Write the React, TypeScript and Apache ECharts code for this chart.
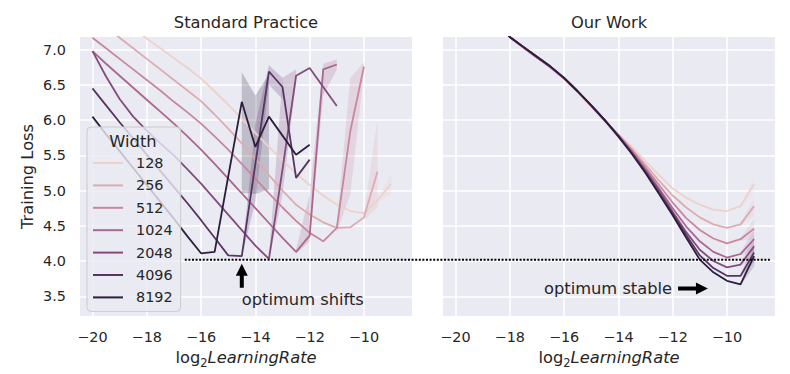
import { useEffect, useRef } from "react";
import * as echarts from "echarts";

const widthLabels = ["128", "256", "512", "1024", "2048", "4096", "8192"];
const palette = ["#edd1cb", "#deabb0", "#c8879e", "#aa678f", "#834c7d", "#583463", "#2d1e3e"];

// ---- Standard Practice (left panel) ----
const stdLR = [-20, -19.5, -19, -18.5, -18, -17.5, -17, -16.5, -16, -15.5, -15, -14.5, -14, -13.5, -13, -12.5, -12, -11.5, -11, -10.5, -10, -9.5, -9];
const std128 = [7.72, 7.58, 7.44, 7.3, 7.16, 7.02, 6.88, 6.74, 6.59, 6.41, 6.22, 6.02, 5.82, 5.62, 5.43, 5.24, 5.08, 4.93, 4.8, 4.71, 4.68, 4.86, 5.1];
const std256 = [7.47, 7.32, 7.17, 7.02, 6.87, 6.72, 6.57, 6.42, 6.27, 6.08, 5.88, 5.67, 5.45, 5.22, 5.0, 4.8, 4.66, 4.55, 4.47, 4.48, 4.62, 5.27, null];
const std512 = [7.17, 7.02, 6.87, 6.72, 6.57, 6.42, 6.26, 6.11, 5.95, 5.77, 5.58, 5.38, 5.17, 4.96, 4.76, 4.57, 4.4, 4.28, 4.47, 5.85, 6.76, null, null];
const std1024 = [6.98, 6.8, 6.63, 6.46, 6.29, 6.12, 5.95, 5.77, 5.58, 5.38, 5.17, 4.96, 4.75, 4.54, 4.33, 4.13, 4.36, 6.72, 6.79, null, null, null, null];
const std2048 = [6.98, 6.62, 6.3, 6.05, 5.85, 5.67, 5.5, 5.3, 5.1, 4.88, 4.66, 4.44, 4.22, 4.03, 5.3, 6.63, 6.74, 6.47, 6.2, null, null, null, null];
const std4096 = [6.45, 6.21, 5.97, 5.74, 5.51, 5.28, 5.05, 4.82, 4.58, 4.33, 4.08, 4.07, 5.38, 6.69, 6.47, 5.18, 5.44, null, null, null, null, null, null];
const std8192 = [6.05, 5.8, 5.56, 5.32, 5.08, 4.84, 4.6, 4.35, 4.11, 4.13, 5.2, 6.26, 5.62, 6.05, 5.78, 5.51, 5.65, null, null, null, null, null, null];

// confidence bands: [log2 lr, low, high]
const stdBand128 = [[-9.5, 4.82, 4.9], [-9, 4.95, 5.25]];
const stdBand256 = [[-10, 4.58, 4.66], [-9.5, 4.76, 6.03]];
const stdBand512 = [[-11, 4.4, 4.55], [-10.5, 4.95, 6.6], [-10, 6.68, 6.82]];
const stdBand1024 = [[-12.5, 4.1, 4.16], [-12, 4.28, 4.95], [-11.5, 6.35, 6.8], [-11, 6.72, 6.86]];
const stdBand2048 = [[-13.5, 4.0, 4.06], [-13, 4.95, 6.6], [-12.5, 6.55, 6.72]];
const stdBand4096 = [[-14.5, 4.05, 4.09], [-14, 4.85, 5.95], [-13.5, 6.5, 6.78], [-13, 6.3, 6.6]];
const stdBand8192 = [[-14.5, 4.97, 6.68], [-14, 4.95, 6.35], [-13.5, 5.02, 6.65]];

// ---- Our Work (right panel) ----
const ourLR = [-18.5, -18, -17.5, -17, -16.5, -16, -15.5, -15, -14.5, -14, -13.5, -13, -12.5, -12, -11.5, -11, -10.5, -10, -9.5, -9];
const our128 = [7.48, 7.18, 7.03, 6.89, 6.75, 6.59, 6.4, 6.2, 5.99, 5.8, 5.62, 5.42, 5.22, 5.03, 4.9, 4.8, 4.73, 4.71, 4.78, 5.09];
const our256 = [7.48, 7.18, 7.03, 6.89, 6.75, 6.59, 6.4, 6.2, 5.99, 5.79, 5.59, 5.37, 5.14, 4.93, 4.76, 4.62, 4.52, 4.47, 4.52, 4.78];
const our512 = [7.48, 7.18, 7.03, 6.89, 6.75, 6.59, 6.4, 6.2, 5.99, 5.79, 5.57, 5.33, 5.08, 4.83, 4.61, 4.44, 4.32, 4.25, 4.31, 4.46];
const our1024 = [7.48, 7.18, 7.03, 6.89, 6.75, 6.59, 6.41, 6.21, 6.0, 5.78, 5.55, 5.3, 5.03, 4.75, 4.49, 4.28, 4.13, 4.05, 4.1, 4.31];
const our2048 = [7.48, 7.18, 7.04, 6.9, 6.76, 6.6, 6.41, 6.21, 6.0, 5.78, 5.54, 5.28, 5.0, 4.7, 4.41, 4.16, 4.0, 3.91, 3.95, 4.21];
const our4096 = [7.48, 7.18, 7.04, 6.9, 6.76, 6.6, 6.41, 6.21, 6.0, 5.77, 5.53, 5.26, 4.97, 4.67, 4.37, 4.08, 3.9, 3.79, 3.79, 4.12];
const our8192 = [7.48, 7.18, 7.04, 6.9, 6.76, 6.6, 6.41, 6.21, 6.0, 5.77, 5.52, 5.25, 4.95, 4.65, 4.33, 4.02, 3.84, 3.72, 3.67, 4.07];

// small bands at the largest learning rates (right panel)
const ourBand128 = [[-9.5, 4.76, 4.8], [-9, 4.95, 5.2]];
const ourBand256 = [[-9.5, 4.5, 4.54], [-9, 4.64, 4.9]];
const ourBand512 = [[-9.5, 4.29, 4.33], [-9, 4.3, 4.6]];
const ourBand1024 = [[-9.5, 4.08, 4.12], [-9, 4.15, 4.45]];
const ourBand2048 = [[-9.5, 3.93, 3.97], [-9, 4.05, 4.35]];
const ourBand4096 = [[-9.5, 3.77, 3.81], [-9, 3.98, 4.26]];
const ourBand8192 = [[-9.5, 3.65, 3.69], [-9, 3.92, 4.2]];

const xTicks = [-20, -18, -16, -14, -12, -10];
const yTicks = [3.5, 4.0, 4.5, 5.0, 5.5, 6.0, 6.5, 7.0];
const optimumLoss = 4.02;

const stdSeries = [std128, std256, std512, std1024, std2048, std4096, std8192];
const stdBands = [stdBand128, stdBand256, stdBand512, stdBand1024, stdBand2048, stdBand4096, stdBand8192];
const ourSeries = [our128, our256, our512, our1024, our2048, our4096, our8192];
const ourBands = [ourBand128, ourBand256, ourBand512, ourBand1024, ourBand2048, ourBand4096, ourBand8192];

const FONT = "DejaVu Sans";
const TXT = "#262626";

const fmtX = (v: number) => (v < 0 ? "\u2212" + Math.abs(v) : String(v));

export default function App() {
  const ref = useRef<HTMLDivElement>(null);

  useEffect(() => {
    const chart = echarts.init(ref.current!, null, { renderer: "svg" });

    const pairs = (xs: number[], ys: (number | null)[]) =>
      xs.map((x, i) => [x, ys[i]]).filter((p) => p[1] !== null);

    const lineSeries = (name: string, color: string, data: any[], idx: number) => ({
      type: "line",
      name,
      xAxisIndex: idx,
      yAxisIndex: idx,
      data,
      symbol: "none",
      clip: true,
      lineStyle: { color, width: 1.8 },
      itemStyle: { color },
      z: 3,
    });

    const bandSeries = (band: number[][], color: string, idx: number, op: number) => ({
      type: "custom",
      xAxisIndex: idx,
      yAxisIndex: idx,
      silent: true,
      clip: true,
      z: 2,
      data: band,
      renderItem: (params: any, api: any) => {
        if (params.dataIndex !== 0) return null;
        const lower = band.map((d) => api.coord([d[0], d[1]]));
        const upper = band.map((d) => api.coord([d[0], d[2]])).reverse();
        return {
          type: "polygon",
          shape: { points: lower.concat(upper) },
          style: { fill: color, opacity: op },
        };
      },
    });

    const xAxis = (gridIndex: number) => ({
      type: "value",
      gridIndex,
      min: -20.46,
      max: -8.23,
      axisLine: { show: false },
      axisTick: { show: false, customValues: xTicks },
      axisLabel: {
        customValues: xTicks,
        formatter: fmtX,
        color: TXT,
        fontFamily: FONT,
        fontSize: 14.4,
        margin: 14,
      },
      splitLine: { show: true, lineStyle: { color: "#ffffff", width: 1.5 } },
      name: "{a|log}{b|2}{c|LearningRate}",
      nameLocation: "middle",
      nameGap: 29,
      nameTextStyle: {
        color: TXT,
        fontFamily: FONT,
        fontSize: 16.3,
        rich: {
          a: { fontFamily: FONT, fontSize: 16.3, color: TXT, lineHeight: 24 },
          b: { fontFamily: FONT, fontSize: 11.5, color: TXT, lineHeight: 24, verticalAlign: "bottom" },
          c: { fontFamily: FONT, fontSize: 16.3, color: TXT, fontStyle: "italic", lineHeight: 24 },
        },
      },
    });

    const yAxis = (gridIndex: number) => ({
      type: "value",
      gridIndex,
      min: 3.22,
      max: 7.18,
      axisLine: { show: false },
      axisTick: { show: false, customValues: yTicks },
      axisLabel: {
        show: gridIndex === 0,
        customValues: yTicks,
        formatter: (v: number) => v.toFixed(1),
        color: TXT,
        fontFamily: FONT,
        fontSize: 14.4,
        margin: 14,
      },
      splitLine: { show: true, lineStyle: { color: "#ffffff", width: 1.5 } },
      name: gridIndex === 0 ? "Training Loss" : "",
      nameLocation: "middle",
      nameRotate: 90,
      nameGap: 45,
      nameTextStyle: { color: TXT, fontFamily: FONT, fontSize: 16.3 },
    });

    const series: any[] = [];
    stdBands.forEach((b, i) => series.push(bandSeries(b, palette[i], 0, 0.22)));
    ourBands.forEach((b, i) => series.push(bandSeries(b, palette[i], 1, 0.15)));
    stdSeries.forEach((s, i) => series.push(lineSeries(widthLabels[i], palette[i], pairs(stdLR, s), 0)));
    ourSeries.forEach((s, i) => series.push(lineSeries(widthLabels[i], palette[i], pairs(ourLR, s), 1)));

    chart.setOption({
      animation: false,
      backgroundColor: "#ffffff",
      title: [
        {
          text: "Standard Practice",
          left: 246,
          top: 14,
          textAlign: "center",
          padding: 0,
          textStyle: { fontFamily: FONT, fontSize: 16.3, fontWeight: "normal", color: TXT },
        },
        {
          text: "Our Work",
          left: 609,
          top: 14,
          textAlign: "center",
          padding: 0,
          textStyle: { fontFamily: FONT, fontSize: 16.3, fontWeight: "normal", color: TXT },
        },
      ],
      grid: [
        { left: 80, top: 37, width: 332, height: 280, show: true, backgroundColor: "#EAEAF2", borderWidth: 0 },
        { left: 443, top: 37, width: 332, height: 280, show: true, backgroundColor: "#EAEAF2", borderWidth: 0 },
      ],
      xAxis: [xAxis(0), xAxis(1)],
      yAxis: [yAxis(0), yAxis(1)],
      legend: {
        data: widthLabels,
        orient: "vertical",
        left: 87,
        top: 127,
        padding: [28, 8, 6, 6],
        itemGap: 6.4,
        itemWidth: 30,
        itemHeight: 2,
        icon: "rect",
        backgroundColor: "rgba(234,234,242,0.8)",
        borderColor: "#cccccc",
        borderWidth: 1,
        borderRadius: 4,
        selectedMode: false,
        textStyle: { fontFamily: FONT, fontSize: 14.4, color: TXT, padding: [0, 0, 0, 8], lineHeight: 16 },
        z: 10,
      },
      series,
    });

    const px = (g: number, x: number, y: number) => chart.convertToPixel({ gridIndex: g } as any, [x, y]) as number[];
    const lineStart = px(0, -16.6, optimumLoss);
    const lineEnd = px(1, -8.42, optimumLoss);
    const upTip = px(0, -14.5, 3.96);
    const upTail = px(0, -14.5, 3.62);
    const shiftText = px(0, -14.5, 3.46);
    const rTail = px(1, -11.8, 3.61);
    const rTip = px(1, -10.7, 3.61);
    const stableText = px(1, -12.02, 3.61);

    const hw = 6, hl = 12, sw = 2;
    const upArrow = [
      [upTip[0], upTip[1]],
      [upTip[0] + hw, upTip[1] + hl],
      [upTip[0] + sw, upTip[1] + hl],
      [upTail[0] + sw, upTail[1]],
      [upTail[0] - sw, upTail[1]],
      [upTip[0] - sw, upTip[1] + hl],
      [upTip[0] - hw, upTip[1] + hl],
    ];
    const rArrow = [
      [rTip[0], rTip[1]],
      [rTip[0] - hl, rTip[1] - hw],
      [rTip[0] - hl, rTip[1] - sw],
      [rTail[0], rTail[1] - sw],
      [rTail[0], rTail[1] + sw],
      [rTip[0] - hl, rTip[1] + sw],
      [rTip[0] - hl, rTip[1] + hw],
    ];

    chart.setOption({
      graphic: [
        {
          type: "line",
          z: 20,
          shape: { x1: lineStart[0], y1: lineStart[1], x2: lineEnd[0], y2: lineEnd[1] },
          style: { stroke: "#000000", lineWidth: 2, lineDash: [2, 1.6] },
        },
        { type: "polygon", z: 20, shape: { points: upArrow }, style: { fill: "#000000" } },
        { type: "polygon", z: 20, shape: { points: rArrow }, style: { fill: "#000000" } },
        {
          type: "text",
          z: 20,
          x: shiftText[0],
          y: shiftText[1],
          style: { text: "optimum shifts", fill: TXT, fontFamily: FONT, fontSize: 16.3, align: "left", verticalAlign: "middle" },
        },
        {
          type: "text",
          z: 20,
          x: stableText[0],
          y: stableText[1],
          style: { text: "optimum stable", fill: TXT, fontFamily: FONT, fontSize: 16.3, align: "right", verticalAlign: "middle" },
        },
        {
          type: "text",
          z: 30,
          x: 133,
          y: 141,
          style: { text: "Width", fill: TXT, fontFamily: FONT, fontSize: 16.3, align: "center", verticalAlign: "middle" },
        },
      ],
    });

    return () => chart.dispose();
  }, []);

  return <div ref={ref} style={{ position: "fixed", left: 0, top: 0, width: 790, height: 374 }} />;
}
